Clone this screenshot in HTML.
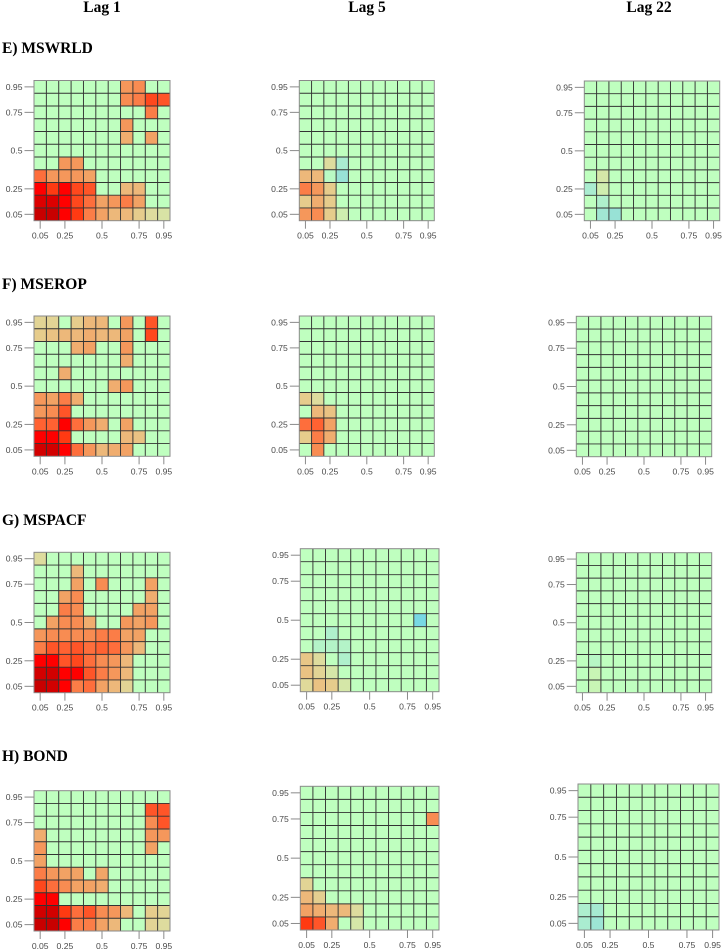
<!DOCTYPE html>
<html lang="en">
<head>
<meta charset="utf-8">
<title>Quantile dependence heatmaps</title>
<style>
html,body{margin:0;padding:0;background:#fff;}
svg{display:block;}
.head{font-family:"Liberation Serif",serif;font-weight:bold;fill:#000;}
.tick{font-family:"Liberation Sans",sans-serif;font-size:8.6px;fill:#4a4a4a;}
</style>
</head>
<body>
<svg id="chart" xmlns="http://www.w3.org/2000/svg" width="723" height="951" viewBox="0 0 723 951">
<text class="head" x="102" y="12" font-size="15.5" text-anchor="middle">Lag 1</text>
<text class="head" x="367" y="12" font-size="15.5" text-anchor="middle">Lag 5</text>
<text class="head" x="649" y="12" font-size="15.5" text-anchor="middle">Lag 22</text>
<text class="head" x="2" y="53" font-size="15.5">E) MSWRLD</text>
<text class="head" x="2" y="289" font-size="15.5">F) MSEROP</text>
<text class="head" x="2" y="525" font-size="15.5">G) MSPACF</text>
<text class="head" x="2" y="761" font-size="15.5">H) BOND</text>
</svg>
<script>
// Quantile categories (one per heatmap column / row)
const taus = [0.05, 0.14, 0.23, 0.32, 0.41, 0.5, 0.59, 0.68, 0.77, 0.86, 0.95];
// Axis tick labels
const tickValues = [0.05, 0.25, 0.5, 0.75, 0.95];
const tickLabels = ['0.05', '0.25', '0.5', '0.75', '0.95'];

// Cell values, first row = top of panel (0.95), last row = bottom (0.05)
const mswrldLag1 = [
[0,0,0,0,0,0,0,4.5,5,0,0],
[0,0,0,0,0,0,0,5,5.5,7.5,7],
[0,0,0,0,0,0,0,0,0,5.5,0],
[0,0,0,0,0,0,0,4.5,0,0,0],
[0,0,0,0,0,0,0,3.5,0,4,0],
[0,0,0,0,0,0,0,0,0,0,0],
[0,0,4.5,4.5,0,0,0,0,0,0,0],
[6,4.5,4.5,4.5,4,0,0,0,0,0,0],
[9,8,9,7.5,7,0,0,3,3,0,0],
[10,10,9,7.5,6,4,4.5,5.5,4,0,0],
[11,11,9,8,5.5,4,3,3,2,1,0.8]];
const mswrldLag5 = [
[0,0,0,0,0,0,0,0,0,0,0],
[0,0,0,0,0,0,0,0,0,0,0],
[0,0,0,0,0,0,0,0,0,0,0],
[0,0,0,0,0,0,0,0,0,0,0],
[0,0,0,0,0,0,0,0,0,0,0],
[0,0,0,0,0,0,0,0,0,0,0],
[0,0,1,-2,0,0,0,0,0,0,0],
[3,3,-0.5,-3,0,0,0,0,0,0,0],
[5.5,4.5,2,0,0,0,0,0,0,0,0],
[2,3.5,2,0,0,0,0,0,0,0,0],
[4.5,5,2,0.5,0,0,0,0,0,0,0]];
const mswrldLag22 = [
[0,0,0,0,0,0,0,0,0,0,0],
[0,0,0,0,0,0,0,0,0,0,0],
[0,0,0,0,0,0,0,0,0,0,0],
[0,0,0,0,0,0,0,0,0,0,0],
[0,0,0,0,0,0,0,0,0,0,0],
[0,0,0,0,0,0,0,0,0,0,0],
[0,0,0,0,0,0,0,0,0,0,0],
[0,0.7,0,0,0,0,0,0,0,0,0],
[-2,0.5,0,0,0,0,0,0,0,0,0],
[0,-1.5,0,0,0,0,0,0,0,0,0],
[0,-2.5,-3,0,0,0,0,0,0,0,0]];
const mseropLag1 = [
[1.5,1.5,0,2,3,3,0,4.5,0,7,0],
[2,2.5,3,3,3.5,3,3,4,0,7.5,0],
[0,0,0,3.5,4,0,0,4.5,0,0,0],
[0,0,0,0,0,0,0,3.5,0,0,0],
[0,0,3.5,0,0,0,0,0,0,0,0],
[0,0,0,0,0,0,3.5,4.5,0,0,0],
[4.5,4,5.5,3.5,0,0,0,0,0,0,0],
[4.5,5,7,0,0,0,0,0,0,0,0],
[6.5,6.5,9,6,4.5,3.5,0,4,0,0,0],
[9,9,8,0,0,0,0,3,2.5,0,0],
[10.5,10.5,9,6,4.5,3,3.5,4,0,0,0]];
const mseropLag5 = [
[0,0,0,0,0,0,0,0,0,0,0],
[0,0,0,0,0,0,0,0,0,0,0],
[0,0,0,0,0,0,0,0,0,0,0],
[0,0,0,0,0,0,0,0,0,0,0],
[0,0,0,0,0,0,0,0,0,0,0],
[0,0,0,0,0,0,0,0,0,0,0],
[2,1,0,0,0,0,0,0,0,0,0],
[0,3,2.5,0,0,0,0,0,0,0,0],
[6,6.5,4,0,0,0,0,0,0,0,0],
[2,5.5,3.5,0,0,0,0,0,0,0,0],
[0,5,0,0,0,0,0,0,0,0,0]];
const mseropLag22 = [
[0,0,0,0,0,0,0,0,0,0,0],
[0,0,0,0,0,0,0,0,0,0,0],
[0,0,0,0,0,0,0,0,0,0,0],
[0,0,0,0,0,0,0,0,0,0,0],
[0,0,0,0,0,0,0,0,0,0,0],
[0,0,0,0,0,0,0,0,0,0,0],
[0,0,0,0,0,0,0,0,0,0,0],
[0,0,0,0,0,0,0,0,0,0,0],
[0,0,0,0,0,0,0,0,0,0,0],
[0,0,0,0,0,0,0,0,0,0,0],
[0,0,0,0,0,0,0,0,0,0,0]];
const mspacfLag1 = [
[1,0,0,0,0,0,0,0,0,0,0],
[0,0,0,3,0,0,0,0,0,0,0],
[0,0,0,4,0,5,0,0,0,4,0],
[0,0,4,5,0,0,0,0,0,3.5,0],
[0,0,5.5,5,0,0,0,0,4,4,0],
[0,4,5,5,3.5,0,0,4.5,4,4.5,0],
[4.5,5,5,5,5,5.5,5.5,4,4,0,0],
[5.5,7,6.5,7,6,6.5,6,4.5,3,0,0],
[9,9,7,7.5,6,5,4.5,3,0,0,0],
[10.5,10.5,9,9,7,5.5,4.5,3,0,0,0],
[11,10.5,9,5.5,6,4,3,1.5,0,0,0]];
const mspacfLag5 = [
[0,0,0,0,0,0,0,0,0,0,0],
[0,0,0,0,0,0,0,0,0,0,0],
[0,0,0,0,0,0,0,0,0,0,0],
[0,0,0,0,0,0,0,0,0,0,0],
[0,0,0,0,0,0,0,0,0,0,0],
[0,0,0,0,0,0,0,0,0,-4,0],
[0,0,-1.5,0,0,0,0,0,0,0,0],
[0,-1,-1,-1,0,0,0,0,0,0,0],
[2.3,1,0,-1.5,0,0,0,0,0,0,0],
[2.5,1.5,0.7,0,0,0,0,0,0,0,0],
[1.2,2.5,2,0.7,0,0,0,0,0,0,0]];
const mspacfLag22 = [
[0,0,0,0,0,0,0,0,0,0,0],
[0,0,0,0,0,0,0,0,0,0,0],
[0,0,0,0,0,0,0,0,0,0,0],
[0,0,0,0,0,0,0,0,0,0,0],
[0,0,0,0,0,0,0,0,0,0,0],
[0,0,0,0,0,0,0,0,0,0,0],
[0,0,0,0,0,0,0,0,0,0,0],
[0,0,0,0,0,0,0,0,0,0,0],
[0,-0.7,0,0,0,0,0,0,0,0,0],
[0,0.3,0,0,0,0,0,0,0,0,0],
[0,0.3,0,0,0,0,0,0,0,0,0]];
const bondLag1 = [
[0,0,0,0,0,0,0,0,0,0,0],
[0,0,0,0,0,0,0,0,0,7,7],
[0,0,0,0,0,0,0,0,0,5,7],
[3.5,0,0,0,0,0,0,0,0,4.5,4.5],
[4.5,0,0,0,0,0,0,0,0,4,0],
[4,0,0,0,0,0,0,0,0,0,0],
[5.5,4.5,4,4,0,3.8,0,0,0,0,0],
[7.5,6,5,4,4,3.5,0,0,0,0,0],
[9,9,0,0,0,0,0,0,0,0,0],
[10.5,10.5,8,6,7,5,4.5,3,0,2,1.5],
[11,11,9,5.5,5.5,4,3,0,0,1.5,1]];
const bondLag5 = [
[0,0,0,0,0,0,0,0,0,0,0],
[0,0,0,0,0,0,0,0,0,0,0],
[0,0,0,0,0,0,0,0,0,0,5],
[0,0,0,0,0,0,0,0,0,0,0],
[0,0,0,0,0,0,0,0,0,0,0],
[0,0,0,0,0,0,0,0,0,0,0],
[0,0,0,0,0,0,0,0,0,0,0],
[1.5,0,0,0,0,0,0,0,0,0,0],
[3,1.8,0,0,0,0,0,0,0,0,0],
[4,3.5,3,3,1,0,0,0,0,0,0],
[8,7,3.5,0,0.7,0,0,0,0,0,0]];
const bondLag22 = [
[0,0,0,0,0,0,0,0,0,0,0],
[0,0,0,0,0,0,0,0,0,0,0],
[0,0,0,0,0,0,0,0,0,0,0],
[0,0,0,0,0,0,0,0,0,0,0],
[0,0,0,0,0,0,0,0,0,0,0],
[0,0,0,0,0,0,0,0,0,0,0],
[0,0,0,0,0,0,0,0,0,0,0],
[0,0,0,0,0,0,0,0,0,0,0],
[0,0,0,0,0,0,0,0,0,0,0],
[-1.7,-2.2,0,0,0,0,0,0,0,0,0],
[-2,-2.7,0,0,0,0,0,0,0,0,0]];

// Panel frames: name, values, plot box
const frames = [
  {name:'mswrld-lag-1',  values:mswrldLag1,  l:34,    r:170,   t:80.5,  b:220.7},
  {name:'mswrld-lag-5',  values:mswrldLag5,  l:299.3, r:434.3, t:80.5,  b:220.7},
  {name:'mswrld-lag-22', values:mswrldLag22, l:584.3, r:719.7, t:81,    b:220.7},
  {name:'mserop-lag-1',  values:mseropLag1,  l:34,    r:170,   t:316,   b:456.3},
  {name:'mserop-lag-5',  values:mseropLag5,  l:299.3, r:434.3, t:316,   b:456.3},
  {name:'mserop-lag-22', values:mseropLag22, l:576.3, r:711.7, t:316.3, b:456.7},
  {name:'mspacf-lag-1',  values:mspacfLag1,  l:34,    r:170,   t:552.3, b:692.7},
  {name:'mspacf-lag-5',  values:mspacfLag5,  l:300.3, r:439,   t:548.7, b:691.7},
  {name:'mspacf-lag-22', values:mspacfLag22, l:576.3, r:711.7, t:552.7, b:692.7},
  {name:'bond-lag-1',    values:bondLag1,    l:34,    r:170,   t:790.7, b:931},
  {name:'bond-lag-5',    values:bondLag5,    l:300.3, r:439,   t:786.3, b:930},
  {name:'bond-lag-22',   values:bondLag22,   l:578,   r:719,   t:784,   b:930}
];

const NS = 'http://www.w3.org/2000/svg';
const svg = document.getElementById('chart');

const posStops = ['#bfffbf','#dedc9e','#e6cc8c','#edb87a','#f2a264','#f88c52','#fe6e3c','#ff5528','#ff3a12','#ff0000','#dc0000','#c80000'];
const negStops = ['#bfffbf','#b4f4c8','#aaecd0','#98e2d6','#78d8e4'];

function hexRgb(h) {
  return [1, 3, 5].map(function (i) { return parseInt(h.substr(i, 2), 16); });
}
function colorFor(v) {
  const stops = v >= 0 ? posStops : negStops;
  const a = Math.min(Math.abs(v), stops.length - 1);
  const i = Math.min(Math.floor(a), stops.length - 2);
  const f = a - i;
  const p = hexRgb(stops[i]);
  const q = hexRgb(stops[i + 1]);
  return 'rgb(' + p.map(function (c, k) { return Math.round(c + (q[k] - c) * f); }).join(',') + ')';
}
function make(tag, attrs, parent) {
  const el = document.createElementNS(NS, tag);
  Object.keys(attrs).forEach(function (k) { el.setAttribute(k, attrs[k]); });
  parent.appendChild(el);
  return el;
}
function nearestIndex(v) {
  let best = 0;
  taus.forEach(function (t, i) {
    if (Math.abs(t - v) < Math.abs(taus[best] - v)) best = i;
  });
  return best;
}

frames.forEach(function (fr) {
  const nx = taus.length;
  const ny = taus.length;
  const bw = (fr.r - fr.l) / nx;
  const bh = (fr.b - fr.t) / ny;
  const xAt = function (i) { return fr.l + i * bw; };
  const yAt = function (i) { return fr.t + i * bh; };

  const g = make('g', {}, svg);
  
  

  fr.values.forEach(function (row, ri) {
    row.forEach(function (v, ci) {
      const c = make('rect', {x: xAt(ci), y: yAt(ri), width: bw + 0.2, height: bh + 0.2, fill: colorFor(v)}, g);
      
      
    });
  });

  for (let i = 1; i < nx; i++) {
    const vl = make('line', {x1: xAt(i), x2: xAt(i), y1: fr.t, y2: fr.b, stroke: '#333', 'stroke-width': 0.95}, g);
    
    
    const hl = make('line', {x1: fr.l, x2: fr.r, y1: yAt(i), y2: yAt(i), stroke: '#333', 'stroke-width': 0.95}, g);
    
    
  }

  const box = make('rect', {x: fr.l, y: fr.t, width: fr.r - fr.l, height: fr.b - fr.t, fill: 'none', stroke: '#8a8a8a', 'stroke-width': 1}, g);
  
  

  tickValues.forEach(function (tv, ti) {
    const idx = nearestIndex(tv);
    const px = xAt(idx + 0.5);
    const py = yAt(ny - 1 - idx + 0.5);

    const xt = make('line', {x1: px, x2: px, y1: fr.b, y2: fr.b + 8, stroke: '#8a8a8a', 'stroke-width': 1}, g);
    
    
    const xl = make('text', {class: 'tick', x: px, y: fr.b + 18, 'text-anchor': 'middle'}, g);
    
    
    xl.textContent = tickLabels[ti];

    const yt = make('line', {x1: fr.l - 9.5, x2: fr.l, y1: py, y2: py, stroke: '#8a8a8a', 'stroke-width': 1}, g);
    
    
    const yl = make('text', {class: 'tick', x: fr.l - 11.5, y: py + 3, 'text-anchor': 'end'}, g);
    
    
    yl.textContent = tickLabels[ti];
  });
});
</script>
</body>
</html>
